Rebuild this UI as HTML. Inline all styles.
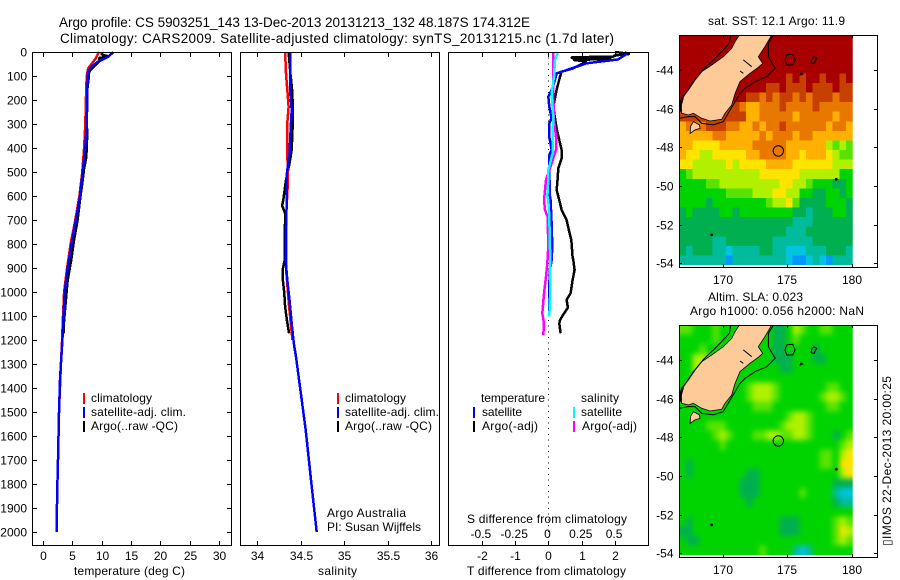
<!DOCTYPE html>
<html lang="en">
<head>
<meta charset="utf-8">
<title>Argo profile chart</title>
<style>
html,body{margin:0;padding:0;background:#fff;}
svg{display:block;font-family:"Liberation Sans",sans-serif;}
</style>
</head>
<body>
<svg id="chart" xmlns="http://www.w3.org/2000/svg" width="900" height="580" viewBox="0 0 900 580">
<defs>
<filter id="soften" filterUnits="userSpaceOnUse" x="660" y="300" width="220" height="280" color-interpolation-filters="sRGB"><feGaussianBlur stdDeviation="2.6"/></filter>
</defs>
</svg>
<script>
/* ---------- profile data (depth in m) ---------- */
const depthTicks = [0,100,200,300,400,500,600,700,800,900,1000,1100,1200,1300,1400,1500,1600,1700,1800,1900,2000];
const tempTicks = [0,5,10,15,20,25,30];
const salTicks = ['34','34.5','35','35.5','36'];
const tDiffTicks = [-2,-1,0,1,2];
const sDiffTicks = ['-0.5','-0.25','0','0.25','0.5'];

const climTempDepth = [0,30,68,100,200,300,400,500,600,700,800,900,1000,1100,1200,1300,1500,1700,1850,2000];
const climTemp = [9.5,8.9,7.7,7.45,7.3,7.2,7.0,6.7,6.2,5.5,4.7,4.1,3.6,3.4,3.25,3.05,2.73,2.55,2.4,2.33];
const satTempDepth = [0,20,40,60,80,100,200,300,400,500,600,700,800,900,1000,1100,1200,1300,1367,1505,1700,1850,2000];
const satTemp = [12.0,11.1,9.4,8.3,7.7,7.6,7.55,7.45,7.2,6.75,6.3,5.6,4.85,4.2,3.7,3.5,3.3,3.05,2.9,2.73,2.55,2.4,2.33];
const argoTempDepth = [0,10,18,25,40,68,82,103,158,228,318,367,408,443,485,547,596,700,783,867,950,1033,1117,1172];
const argoTemp = [10.0,10.0,11.1,9.6,9.5,8.4,7.85,7.8,7.55,7.4,7.5,7.5,7.45,7.35,7.0,6.7,6.4,5.9,5.3,4.8,4.2,3.9,3.6,3.5];

const climSalDepth = [0,89,158,228,297,422,492,547,700,900,1061,1131,1200];
const climSal = [34.32,34.33,34.345,34.36,34.345,34.345,34.35,34.35,34.33,34.33,34.365,34.385,34.405];
const satSalDepth = [0,89,158,242,311,422,505,603,728,867,950,1033,1131,1214,1270,1367,1575,1783,2000];
const satSal = [34.376,34.376,34.376,34.395,34.385,34.37,34.34,34.34,34.33,34.325,34.345,34.37,34.395,34.42,34.445,34.48,34.556,34.617,34.683];
const argoSalDepth = [0,89,158,242,325,408,464,533,614,640,672,867,900,936,1006,1061,1117,1172];
const argoSal = [34.36,34.38,34.40,34.41,34.405,34.395,34.37,34.33,34.30,34.285,34.32,34.315,34.295,34.29,34.31,34.32,34.34,34.365];

const satDiffTDepth = [0,8,31,47,78,89,117,158,186,228,276,297,353,408,429,505,603,617,714,811,867,908,1005,1055,1102];
const satDiffT = [2.3,2.35,2.1,1.15,0.5,0.25,0.2,0.1,0,0.03,0.1,0.03,0.03,0.1,0.03,0.03,0.05,0.07,0.1,0.12,0.1,0.05,0.02,0.02,0.02];
const argoDiffTDepth = [0,8,14,19,22,25,29,33,40,68,82,103,158,228,276,318,367,408,443,485,547,575,617,658,672,700,750,783,855,867,908,950,1005,1033,1065,1089,1117,1131,1172];
const argoDiffT = [2.0,2.45,2.0,1.95,0.7,0.7,1.9,0.75,1.15,0.75,0.4,0.35,0.25,0.15,0.2,0.25,0.33,0.4,0.4,0.3,0.27,0.25,0.33,0.4,0.45,0.55,0.63,0.69,0.73,0.75,0.79,0.73,0.67,0.55,0.59,0.47,0.35,0.33,0.37];
const satDiffSDepth = [0,8,33,103,172,276,353,422,492,533,603,617,686,881,992,1103];
const satDiffS = [0.06,0.0675,0.05,0.0425,0.025,0.0375,0.0325,0.0325,0,0,-0.0075,0,0.0075,0.015,0.015,0.0075];
const argoDiffSDepth = [0,8,89,186,283,353,408,464,533,575,617,658,686,811,881,936,1006,1089,1131,1179];
const argoDiffS = [0.0375,0.0375,0.0375,0.0375,0.0425,0.0575,0.0575,0.025,-0.0175,-0.025,-0.0325,-0.025,-0.005,0,-0.0075,-0.0175,-0.0325,-0.045,-0.0325,-0.0375];

/* ---------- map data ---------- */
const lonTicks = [170,175,180];
const latTicks = [-44,-46,-48,-50,-52,-54];
const sstLevels = [
[12,12,12,12,12,12,12,12,12,12,12,12,12,12,12,12,12,12,12,12,12,12,12,12,12,12],
[12,12,12,12,12,12,12,12,12,12,12,12,12,12,12,12,12,12,12,12,12,12,12,12,12,12],
[12,12,12,12,12,12,12,12,12,12,12,12,12,12,12,12,12,12,12,12,12,12,12,12,12,12],
[12,12,12,12,12,12,12,12,12,12,12,12,12,12,12,12,12,12,12,12,12,12,12,12,12,12],
[12,12,12,12,12,12,12,12,12,12,12,12,12,12,12,12,11,12,11,12,12,11,12,12,11,12],
[12,12,12,12,12,12,12,12,12,12,12,12,12,11,11,12,11,11,11,12,11,11,11,12,11,11],
[12,12,12,12,12,12,12,12,12,12,11,11,10,11,10,11,11,10,11,10,11,11,11,10,11,11],
[11,11,11,11,11,11,11,11,11,10,9,9,10,10,10,11,10,10,10,10,11,10,10,10,10,10],
[11,11,11,11,11,11,11,11,11,11,9,9,10,10,10,10,10,9,10,10,10,10,10,9,10,10],
[9,10,10,10,11,11,11,10,10,9,9,10,9,10,10,11,10,10,10,10,10,10,9,10,10,9],
[9,9,9,9,9,10,10,9,9,9,9,9,10,9,10,10,10,9,10,10,9,9,9,9,9,9],
[9,9,8,8,8,8,9,9,9,9,9,10,10,10,10,10,9,9,9,9,9,9,7,6,7,6],
[9,8,8,7,7,8,8,8,8,8,9,9,10,10,10,10,9,9,8,9,9,9,8,7,6,6],
[8,8,7,7,7,7,7,8,7,8,8,8,8,9,9,9,9,8,8,8,8,8,8,7,7,7],
[5,6,7,7,7,7,7,7,7,7,7,7,8,8,8,8,8,8,7,7,7,7,7,7,5,5],
[5,5,5,5,6,6,7,7,7,7,7,7,7,7,7,8,8,7,7,6,5,5,5,4,4,5],
[5,5,5,5,5,5,5,6,6,6,6,7,7,7,8,8,7,7,5,5,4,4,5,5,4,5],
[5,5,5,5,4,5,5,5,5,5,5,5,5,6,7,7,8,6,4,4,4,4,5,5,5,4],
[4,5,4,4,4,4,5,5,4,5,5,5,5,5,5,5,5,4,4,3,4,4,4,5,5,4],
[4,4,4,4,4,4,4,4,4,4,4,4,4,4,4,4,4,3,3,3,4,4,4,4,4,4],
[4,4,4,4,4,4,4,4,4,4,4,4,4,4,4,4,3,3,3,4,4,4,4,4,4,4],
[4,4,4,4,4,3,3,4,4,4,4,4,4,4,3,3,3,3,3,3,4,4,4,4,4,4],
[4,3,4,4,4,3,3,2,3,3,3,3,4,4,3,3,2,2,2,3,3,3,4,4,4,3],
[3,3,3,3,3,3,3,1,3,3,3,3,3,3,3,3,2,1,1,2,3,2,1,3,3,3]
];
const slaLevels = [
[6,6,5,5,5,6,5,5,5,5,5,5,5,5,4,4,5,7,6,5,5,6,6,5,5,5],
[5,5,5,5,5,6,5,5,5,5,5,5,5,5,4,4,5,6,5,5,5,5,5,5,5,5],
[5,5,5,6,5,5,5,5,5,5,5,5,5,5,4,4,5,5,5,5,4,5,5,5,5,5],
[5,5,7,7,6,5,5,5,5,5,5,5,5,5,4,4,4,5,5,5,4,4,5,5,5,5],
[5,5,7,7,5,5,5,5,5,5,5,5,5,5,5,4,4,5,5,5,5,5,5,5,5,5],
[5,5,5,5,5,5,5,5,5,5,5,5,5,5,5,5,5,5,5,5,5,5,5,5,5,5],
[5,5,5,5,5,5,5,5,5,5,6,7,7,7,6,5,5,5,5,5,5,5,6,6,5,5],
[5,5,5,5,5,5,5,5,5,5,6,7,7,7,6,5,5,5,5,5,5,6,7,7,6,5],
[5,5,5,5,5,5,5,5,5,5,5,6,6,6,5,5,5,5,5,5,5,5,6,6,5,5],
[5,5,5,5,5,5,5,5,5,5,5,5,5,5,5,5,6,7,7,6,5,5,5,5,5,5],
[5,5,5,5,6,6,6,5,5,5,5,5,5,5,5,6,7,7,7,6,5,5,5,5,5,5],
[5,5,5,5,5,6,7,6,5,5,5,6,6,7,7,6,6,7,7,6,5,5,5,4,5,6],
[5,5,5,5,5,5,6,5,5,5,5,5,5,5,5,5,5,5,5,5,5,5,5,5,6,7],
[5,5,5,5,5,5,5,5,5,5,5,5,5,5,5,5,5,5,5,5,5,6,6,5,7,8],
[5,4,5,5,5,5,5,5,5,5,5,5,5,5,5,5,5,5,5,5,5,6,6,5,8,8],
[5,4,5,5,5,5,5,5,5,5,4,4,5,5,5,5,5,5,5,5,5,5,5,5,7,8],
[5,5,5,5,5,5,5,5,5,4,4,4,5,5,5,5,5,5,5,5,5,5,5,4,4,4],
[5,5,5,5,5,5,5,5,5,4,4,4,5,5,5,5,5,5,6,5,5,5,5,3,2,2],
[5,5,5,5,5,5,5,5,5,5,4,5,5,5,5,5,5,5,5,5,5,5,5,4,3,3],
[5,5,5,5,5,5,5,5,5,5,5,5,5,5,5,5,5,5,5,5,5,5,5,5,5,5],
[5,4,5,5,5,5,5,5,5,5,5,5,5,5,5,4,4,4,5,5,5,5,5,6,7,6],
[4,4,5,5,5,5,5,5,5,5,5,5,5,5,5,4,4,4,5,5,5,5,5,6,8,7],
[5,4,4,5,5,5,5,5,5,5,5,5,5,5,5,5,5,5,5,5,5,5,5,6,7,6],
[5,5,5,5,5,5,5,5,5,5,5,5,6,5,5,5,5,3,2,3,5,5,5,5,5,5]
];
const southIslandLon = [171.29,170.96,170.70,170.05,169.15,168.37,167.73,167.21,166.90,166.74,166.82,167.34,167.73,168.37,169.02,169.92,170.18,170.70,170.96,171.34,172.12,172.76,173.10,172.76,173.28,173.80];
const southIslandLat = [-42.19,-42.53,-42.88,-43.31,-43.74,-44.09,-44.60,-45.12,-45.47,-45.90,-46.24,-46.33,-46.24,-46.50,-46.64,-46.55,-46.24,-45.81,-45.21,-44.60,-44.17,-43.86,-43.66,-43.31,-42.79,-42.19];
const stewartLon = [167.73,168.19,168.25,167.85,167.47,167.5];
const stewartLat = [-46.67,-46.84,-47.02,-47.1,-47.28,-46.93];
const westContourLon = [170.62,170.52,169.92,169.28,168.5,167.85,167.34,166.82,166.64];
const westContourLat = [-42.19,-42.62,-43.05,-43.48,-43.97,-44.52,-45.03,-45.47,-45.81];
const eastContourLon = [173.93,173.54,173.54,174.06,173.41,172.51,171.73,171.34,170.96,170.57,170.05];
const eastContourLat = [-42.19,-42.62,-43.31,-43.91,-44.35,-44.6,-44.95,-45.21,-45.64,-46.07,-46.67];
const southContourLon = [166.64,167.34,167.85,168.37,169.28,170.05];
const southContourLat = [-46.5,-46.41,-46.41,-46.76,-46.84,-46.67];
const fiordLon = [166.9,166.74,166.74];
const fiordLat = [-45.42,-45.8,-46.15];
const riseLon = [174.96,175.43,175.61,175.43,174.96,174.83,174.96];
const riseLat = [-43.22,-43.19,-43.48,-43.74,-43.74,-43.48,-43.22];
const bankLon = [177.08,177.29,177.08,176.85,176.9,177.08];
const bankLat = [-43.31,-43.40,-43.66,-43.62,-43.45,-43.31];
const isletLon = [176.07,176.2,176.0,176.07];
const isletLat = [-44.14,-44.21,-44.26,-44.14];
const inletLon = [171.6,172.25];
const inletLat = [-43.48,-43.83];
const inlet2Lon = [171.34,171.6];
const inlet2Lat = [-44.05,-44.17];
const islandDotLon = [178.8,169.15];
const islandDotLat = [-49.65,-52.53];
const argoLon = 174.312;
const argoLat = -48.187;

/* ---------- helpers ---------- */
const svg = document.getElementById('chart');
const NS = 'http://www.w3.org/2000/svg';
const levelColors = ['#0048ff','#0098ff','#00c4e0','#00bc9c','#00b050','#00d400','#58e400','#b0f000','#ffe400','#ffb000','#e87800','#c84000','#a80000'];
function make(tag, attrs, name, parent){
  const el = document.createElementNS(NS, tag);
  for(const k in attrs){ el.setAttribute(k, attrs[k]); }
  
  
  (parent || svg).appendChild(el);
  return el;
}
function label(str, x, y, name, o){
  o = o || {};
  const a = {x:x, y:y, 'font-size':o.size||12, fill:'#000', 'text-anchor':o.anchor||'start'};
  if(o.len){ a.textLength = o.len; a.lengthAdjust = 'spacing'; }
  if(o.transform){ a.transform = o.transform; }
  const el = make('text', a, name, o.parent);
  el.textContent = str;
  return el;
}
function seg(x1,y1,x2,y2,name,parent,stroke,w){
  return make('line',{x1:x1,y1:y1,x2:x2,y2:y2,stroke:stroke||'#000','stroke-width':w||1,'shape-rendering':'crispEdges'},name,parent);
}
function frame(x0,y0,x1,y1,name,parent){
  return make('rect',{x:x0+.5,y:y0+.5,width:x1-x0,height:y1-y0,fill:'none',stroke:'#000','stroke-width':1,'shape-rendering':'crispEdges'},name,parent);
}
const depthY = d => 52 + 0.24*d;
const tempX = t => 43 + 5.87*t;
const salX = s => 257.3 + 87*(s-34);
const diffTX = t => 548.3 + 33.3*t;
const diffSX = s => 548.3 + 133.2*s;
function profile(xs, ds, sx, color, w, name, parent){
  const pts = xs.map((v,i)=> sx(v).toFixed(1)+','+depthY(ds[i]).toFixed(1)).join(' ');
  return make('polyline',{points:pts,fill:'none',stroke:color,'stroke-width':w,'shape-rendering':'crispEdges','stroke-linejoin':'bevel'},name,parent);
}
const TOP = 52, BOTTOM = 545;

/* ---------- titles ---------- */
label('Argo profile: CS 5903251_143 13-Dec-2013 20131213_132 48.187S 174.312E',59,27,'figure-title-line-1',{size:13.5,len:471});
label('Climatology: CARS2009. Satellite-adjusted climatology: synTS_20131215.nc (1.7d later)',60,43,'figure-title-line-2',{size:13.5,len:554});

/* ---------- temperature panel ---------- */
const p1 = make('g',{},'temperature-panel');
profile(argoTemp,argoTempDepth,tempX,'#000',2.5,'argo-temperature-line',p1);
profile(climTemp,climTempDepth,tempX,'#f00',2.5,'climatology-temperature-line',p1);
profile(satTemp,satTempDepth,tempX,'#00f',2.5,'satellite-temperature-line',p1);
frame(32,TOP,231,BOTTOM,'temperature-axes-frame',p1);
depthTicks.forEach(d=>{
  const y = Math.round(depthY(d));
  seg(32,y+.5,37,y+.5,'depth-tick-left',p1);
  seg(227,y+.5,232,y+.5,'depth-tick-right',p1);
  label(String(d),27,y+4.5,'depth-tick-label',{anchor:'end',parent:p1});
});
tempTicks.forEach(t=>{
  const x = Math.round(tempX(t));
  seg(x+.5,TOP,x+.5,TOP+5,'temperature-tick-top',p1);
  seg(x+.5,BOTTOM-4,x+.5,BOTTOM,'temperature-tick-bottom',p1);
  label(String(t),x+.5,560,'temperature-tick-label',{anchor:'middle',parent:p1});
});
label('temperature (deg C)',74,575,'temperature-axis-title',{len:111,parent:p1});

/* ---------- salinity panel ---------- */
const p2 = make('g',{},'salinity-panel');
profile(argoSal,argoSalDepth,salX,'#000',2.5,'argo-salinity-line',p2);
profile(climSal,climSalDepth,salX,'#f00',2.5,'climatology-salinity-line',p2);
profile(satSal,satSalDepth,salX,'#00f',2.5,'satellite-salinity-line',p2);
frame(240,TOP,439,BOTTOM,'salinity-axes-frame',p2);
salTicks.forEach(s=>{
  const x = Math.round(salX(parseFloat(s)));
  seg(x+.5,TOP,x+.5,TOP+5,'salinity-tick-top',p2);
  seg(x+.5,BOTTOM-4,x+.5,BOTTOM,'salinity-tick-bottom',p2);
  label(s,x+.5,560,'salinity-tick-label',{anchor:'middle',parent:p2});
});
label('salinity',318,575,'salinity-axis-title',{len:39,parent:p2});
label('Argo Australia',327,517,'credit-argo-australia',{len:79,parent:p2});
label('PI: Susan Wijffels',327,531,'credit-principal-investigator',{len:94,parent:p2});

/* ---------- difference panel ---------- */
const p3 = make('g',{},'difference-panel');
make('line',{x1:548.5,y1:TOP,x2:548.5,y2:BOTTOM,stroke:'#000','stroke-width':1,'stroke-dasharray':'1 4.7','shape-rendering':'crispEdges'},'zero-difference-line',p3);
profile(argoDiffT,argoDiffTDepth,diffTX,'#000',2.5,'argo-temperature-difference-line',p3);
profile(satDiffT,satDiffTDepth,diffTX,'#00f',2.5,'satellite-temperature-difference-line',p3);
profile(argoDiffS,argoDiffSDepth,diffSX,'#f0f',2.5,'argo-salinity-difference-line',p3);
profile(satDiffS,satDiffSDepth,diffSX,'#0ff',2.5,'satellite-salinity-difference-line',p3);
frame(448,TOP,648,BOTTOM,'difference-axes-frame',p3);
tDiffTicks.forEach(t=>{
  const x = Math.round(diffTX(t));
  seg(x+.5,TOP,x+.5,TOP+5,'difference-tick-top',p3);
  seg(x+.5,BOTTOM-4,x+.5,BOTTOM,'difference-tick-bottom',p3);
  label(String(t),x+.5,560,'t-difference-tick-label',{anchor:'middle',parent:p3});
});
sDiffTicks.forEach(s=>{
  label(s,diffSX(parseFloat(s))-0.8,538,'s-difference-tick-label',{anchor:'middle',parent:p3});
});
label('S difference from climatology',467,523,'s-difference-axis-title',{len:160,parent:p3});
label('T difference from climatology',467,575,'t-difference-axis-title',{len:159,parent:p3});

/* ---------- legends ---------- */
function legendRow(xSeg,xText,y,color,str,len,name,parent){
  const g = make('g',{},name,parent);
  seg(xSeg,y-5,xSeg,y+6,name+'-swatch',g,color,2);
  label(str,xText,y+4,name+'-label',{len:len,parent:g});
}
legendRow(84,91,398,'#f00','climatology',61,'legend-climatology-temperature',p1);
legendRow(84,91,412,'#00f','satellite-adj. clim.',95,'legend-satellite-temperature',p1);
legendRow(84,91,426,'#000','Argo(..raw -QC)',87,'legend-argo-temperature',p1);
legendRow(338,345,398,'#f00','climatology',61,'legend-climatology-salinity',p2);
legendRow(338,345,412,'#00f','satellite-adj. clim.',94,'legend-satellite-salinity',p2);
legendRow(338,345,426,'#000','Argo(..raw -QC)',87,'legend-argo-salinity',p2);
label('temperature',481,402,'legend-temperature-heading',{len:64,parent:p3});
legendRow(474,482,412,'#00f','satellite',40,'legend-satellite-t-difference',p3);
legendRow(474,482,426,'#000','Argo(-adj)',56,'legend-argo-t-difference',p3);
label('salinity',581,402,'legend-salinity-heading',{len:38,parent:p3});
legendRow(574,581,412,'#0ff','satellite',41,'legend-satellite-s-difference',p3);
legendRow(574,582,426,'#f0f','Argo(-adj)',55,'legend-argo-s-difference',p3);

/* ---------- maps ---------- */
let clipCount = 0;
function drawMap(top, levels, mapName, smooth){
  const lonX = lon => 722.7 + 12.9*(lon-170);
  const y44 = top + 35;
  const latY = lat => y44 - 19.33*(lat+44);
  const g = make('g',{},mapName);
  const nRows = levels.length, nCols = levels[0].length;
  const west = 166.64, dLon = (180.08-166.64)/nCols;
  const north = -42.19, dLat = (54.09-42.19)/nRows;
  clipCount++;
  const dataClipId = 'dataclip'+clipCount;
  const dataClip = make('clipPath',{id:dataClipId},mapName+'-data-clip',g);
  make('rect',{x:lonX(west),y:latY(north),width:lonX(180.08)-lonX(west),height:latY(-54.09)-latY(north)},mapName+'-data-clip-area',dataClip);
  const heatWrap = make('g',{'clip-path':'url(#'+dataClipId+')'},mapName+'-heatmap-area',g);
  const heatAttrs = {'shape-rendering':'crispEdges'};
  if(smooth){ heatAttrs.filter = 'url(#soften)'; }
  const heat = make('g',heatAttrs,mapName+'-heatmap',heatWrap);
  levels.forEach((row,r)=>{
    row.forEach((v,c)=>{
      let x0 = lonX(west+c*dLon), x1 = lonX(west+(c+1)*dLon);
      let y0 = latY(north-r*dLat), y1 = latY(north-(r+1)*dLat);
      if(c===0){ x0 -= 10; }
      if(c===nCols-1){ x1 += 10; }
      if(r===0){ y0 -= 10; }
      if(r===nRows-1){ y1 += 10; }
      const el = document.createElementNS(NS,'rect');
      el.setAttribute('x',x0.toFixed(2));
      el.setAttribute('y',y0.toFixed(2));
      el.setAttribute('width',(x1-x0+0.5).toFixed(2));
      el.setAttribute('height',(y1-y0+0.5).toFixed(2));
      el.setAttribute('fill',levelColors[v]);
      
      
      heat.appendChild(el);
    });
  });
  const clipId = 'mapclip'+clipCount;
  const clip = make('clipPath',{id:clipId},mapName+'-clip',g);
  make('rect',{x:679,y:top,width:198,height:232},mapName+'-clip-area',clip);
  const geo = make('g',{'clip-path':'url(#'+clipId+')'},mapName+'-geography',g);
  const pts = (lons,lats)=> lons.map((v,i)=> lonX(v).toFixed(1)+','+latY(lats[i]).toFixed(1)).join(' ');
  make('polygon',{points:pts(southIslandLon,southIslandLat),fill:'#fdca98',stroke:'#000','stroke-width':0.8},'south-island-land',geo);
  make('polygon',{points:pts(stewartLon,stewartLat),fill:'#fdca98',stroke:'#000','stroke-width':0.8},'stewart-island-land',geo);
  [[westContourLon,westContourLat,'west-shelf-contour'],[eastContourLon,eastContourLat,'east-shelf-contour'],[southContourLon,southContourLat,'south-shelf-contour'],[riseLon,riseLat,'offshore-rise-contour'],[bankLon,bankLat,'offshore-bank-contour'],[isletLon,isletLat,'offshore-islet-contour'],[inletLon,inletLat,'coast-inlet-line'],[inlet2Lon,inlet2Lat,'coast-inlet-line-2']].forEach(s=>{
    make('polyline',{points:pts(s[0],s[1]),fill:'none',stroke:'#000','stroke-width':1},s[2],geo);
  });
  make('polyline',{points:pts(fiordLon,fiordLat),fill:'none',stroke:'#000','stroke-width':2.5},'fiordland-coast',geo);
  islandDotLon.forEach((lon,i)=>{
    make('circle',{cx:lonX(lon),cy:latY(islandDotLat[i]),r:1.4,fill:'#000'},'small-island-marker',geo);
  });
  make('circle',{cx:lonX(argoLon),cy:latY(argoLat),r:5.2,fill:'none',stroke:'#000','stroke-width':1},'argo-position-marker',geo);
  const bottom = top + 232;
  frame(679,top,877,bottom,mapName+'-axes-frame',g);
  lonTicks.forEach(l=>{
    const x = Math.round(lonX(l));
    seg(x+.5,top,x+.5,top+3,'longitude-tick-top',g);
    seg(x+.5,bottom-3,x+.5,bottom,'longitude-tick-bottom',g);
    label(String(l),x,bottom+17,'longitude-tick-label',{anchor:'middle',parent:g});
  });
  latTicks.forEach(l=>{
    const y = Math.round(latY(l));
    seg(679,y+.5,682,y+.5,'latitude-tick-left',g);
    seg(874,y+.5,877,y+.5,'latitude-tick-right',g);
    label(String(l),673.5,y+4.5,'latitude-tick-label',{anchor:'end',parent:g});
  });
}
drawMap(35,sstLevels,'sst-map',false);
drawMap(325,slaLevels,'sla-map',true);
label('sat. SST: 12.1 Argo: 11.9',708,25,'sst-map-title',{len:137});
label('Altim. SLA: 0.023',708,301,'sla-map-title-line-1',{len:95});
label('Argo h1000: 0.056 h2000: NaN',690,315,'sla-map-title-line-2',{len:174});
label('▯IMOS 22-Dec-2013 20:00:25',0,0,'imos-timestamp',{len:170,transform:'translate(891,546) rotate(-90)'});
</script>
</body>
</html>
